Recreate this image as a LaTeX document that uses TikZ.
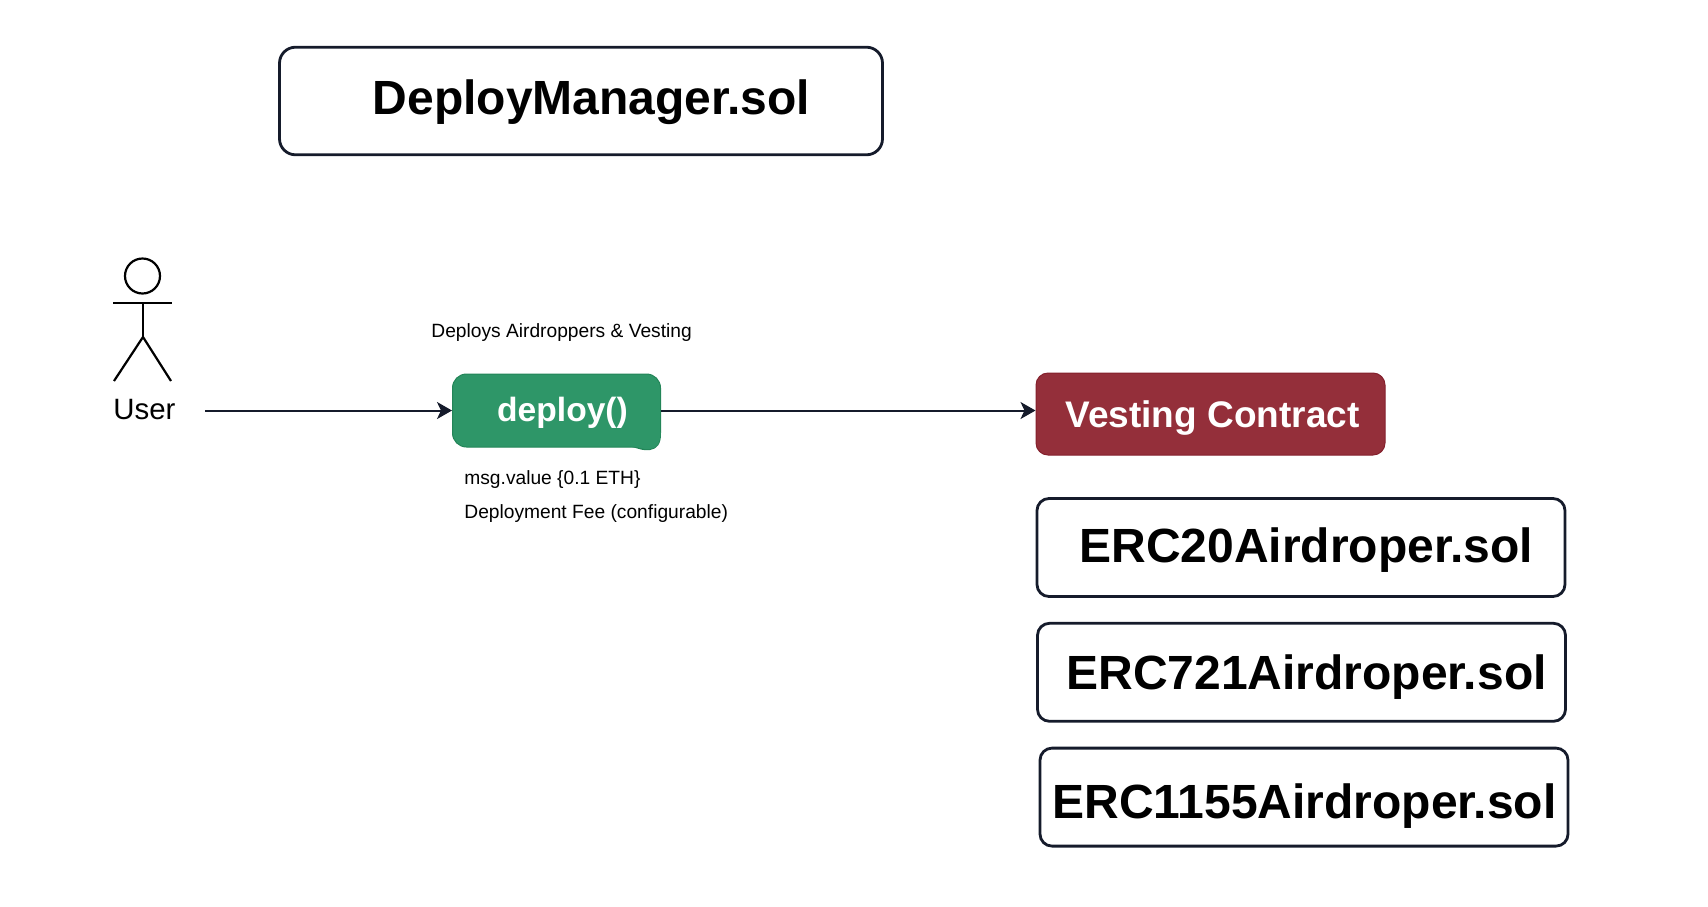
\documentclass[tikz,border=0pt]{standalone}
\usepackage{fontspec}
\setmainfont{Liberation Sans}
\usetikzlibrary{arrows.meta}
\usetikzlibrary{positioning}

\definecolor{inkdark}{HTML}{151B2B}
\definecolor{deploygreen}{HTML}{2E9668}
\definecolor{deployedge}{HTML}{238558}
\definecolor{vestred}{HTML}{942F3A}
\definecolor{vestedge}{HTML}{84202C}

\newcommand{\boxtext}[3]{\hspace*{#1}\raisebox{#2}{#3}}

\tikzset{
    filebox/.style = {draw=inkdark, line width=1.4pt, rounded corners=6pt, fill=white,
        minimum width=264pt, minimum height=49pt, inner sep=0pt,
        text height=17.2pt, text depth=0pt, font=\fontsize{24}{28}\selectfont\bfseries},
    funcbox/.style = {draw=deployedge, line width=.5pt, rounded corners=7pt, fill=deploygreen,
        minimum width=104pt, minimum height=36.5pt, inner sep=0pt, text=white,
        text height=12pt, text depth=0pt, font=\fontsize{16.8}{20}\selectfont\bfseries},
    contractbox/.style = {draw=vestedge, line width=.5pt, rounded corners=6pt, fill=vestred,
        minimum width=174.5pt, minimum height=41pt, inner sep=0pt, text=white,
        text height=13pt, text depth=0pt, font=\fontsize{18.5}{22}\selectfont\bfseries},
    note/.style = {anchor=base west, inner sep=0pt, font=\fontsize{9.6}{12}\selectfont},
    stick/.style = {draw=black, line width=1.1pt},
    flow/.style = {draw=inkdark, line width=1pt, -{Stealth[length=7.5pt,width=8.5pt,inset=2pt]}}
}

\begin{document}
\begin{tikzpicture}[x=0.5pt, y=-0.5pt]
    \useasboundingbox (0,0) rectangle (1708,906);

    \node[filebox, minimum width=301.5pt, minimum height=53.8pt, rounded corners=8pt] (manager) at (581,101)
        {\boxtext{10.6pt}{1.75pt}{DeployManager.sol}};

    \node[circle, stick, minimum size=17.5pt, inner sep=0pt] (head) at (142.5,276) {};
    \coordinate (armleft) at (113,303);
    \coordinate (armright) at (172,303);
    \coordinate (neck) at (143,303);
    \coordinate (hip) at (143,337);
    \coordinate (footleft) at (114,381);
    \coordinate (footright) at (171,381);
    \draw[stick] (armleft) -- (armright);
    \draw[stick] (neck) -- (hip);
    \draw[stick] (footleft) -- (hip) -- (footright);
    \node[anchor=base west, inner sep=0pt, font=\fontsize{14.7}{18}\selectfont] (user) at (113,419) {User};
    \coordinate (userout) at (205,410.5);

    \fill[deployedge] (632,447) .. controls (640,449) and (643,451) .. (650,450)
        .. controls (657,449) and (661,444) .. (661,434) -- cycle;
    \node[funcbox] (deploy) at (556.5,410.5) {\boxtext{6pt}{.5pt}{deploy()}};
    \fill[deploygreen] (630,446) .. controls (640,447) and (643,450) .. (650,449)
        .. controls (657,448) and (660.5,443) .. (660.5,432) -- (640,430) -- cycle;

    \node[note] (deploys) at (431,337) {Deploys Airdroppers \& Vesting};
    \node[note] (fee) at (464,484) {msg.value \{0.1 ETH\}};
    \node[note] (feetext) at (464,518) {Deployment Fee (configurable)};

    \node[contractbox] (vesting) at (1210.5,414) {\boxtext{2pt}{0pt}{Vesting Contract}};

    \node[filebox] (erc20) at (1301,547.5) {\boxtext{5.1pt}{.9pt}{ERC20Airdroper.sol}};
    \node[filebox, below=12pt of erc20, xshift=.25pt] (erc721) {\boxtext{5.1pt}{.25pt}{ERC721Airdroper.sol}};
    \node[filebox, below=12pt of erc721, xshift=1.25pt] (erc1155) {\boxtext{.5pt}{-2pt}{ERC1155Airdroper.sol}};

    \draw[flow] (userout) -- (deploy.west);
    \draw[flow] (deploy.east) -- (deploy.east -| vesting.west);
\end{tikzpicture}
\end{document}
